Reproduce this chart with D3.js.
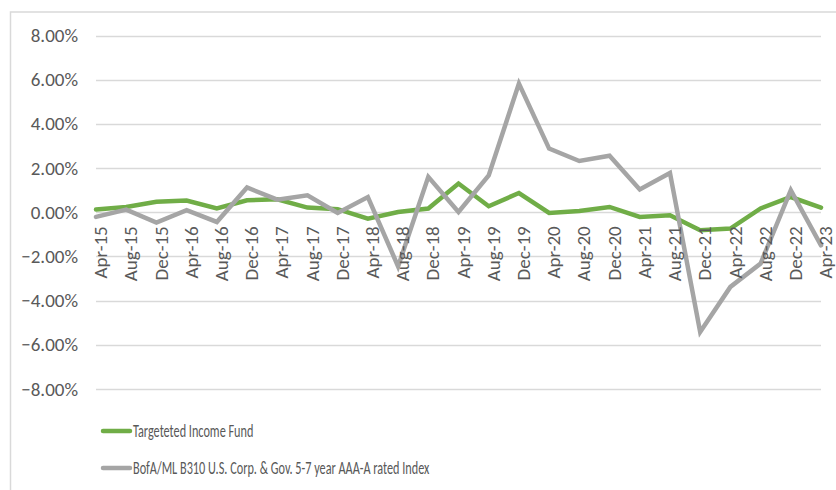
<!DOCTYPE html>
<html>
<head>
<meta charset="utf-8">
<script src="https://cdn.jsdelivr.net/npm/d3@7"></script>
<style>
  body { margin: 0; background: #fff; }
  svg { display: block; }
  text { font-family: "Carlito", "Calibri", "Liberation Sans", Arial, sans-serif; fill: #595959; }
</style>
</head>
<body>
<div id="chartContainer"></div>
<script>
// category labels (every 4 months)
const months = ["Apr-15", "Aug-15", "Dec-15", "Apr-16", "Aug-16", "Dec-16", "Apr-17", "Aug-17", "Dec-17",
  "Apr-18", "Aug-18", "Dec-18", "Apr-19", "Aug-19", "Dec-19", "Apr-20", "Aug-20", "Dec-20",
  "Apr-21", "Aug-21", "Dec-21", "Apr-22", "Aug-22", "Dec-22", "Apr-23"];

// returns in percent
const fundValues = [0.12, 0.24, 0.47, 0.53, 0.17, 0.54, 0.59, 0.21, 0.14,
  -0.29, 0.01, 0.17, 1.30, 0.27, 0.87, -0.03, 0.06, 0.24,
  -0.21, -0.14, -0.81, -0.74, 0.17, 0.69, 0.21];

const indexValues = [-0.21, 0.12, -0.47, 0.09, -0.44, 1.12, 0.57, 0.77, -0.03,
  0.69, -2.45, 1.60, 0.01, 1.67, 5.82, 2.88, 2.32, 2.56,
  1.03, 1.78, -5.42, -3.38, -2.32, 1.00, -1.50];

const yTicks = [8, 6, 4, 2, 0, -2, -4, -6, -8];

const seriesNames = ["Targeteted Income Fund", "BofA/ML B310 U.S. Corp. & Gov. 5-7 year AAA-A rated Index"];
const seriesColors = ["#70ad47", "#a5a5a5"];

const W = 836, H = 490;
const axisFont = "\"Carlito\", \"Calibri\", \"Liberation Sans\", Arial, sans-serif";

const svg = d3.select("#chartContainer")
  .append("svg")
  .attr("width", W)
  .attr("height", H);

// chart area frame
svg.append("rect")
  .attr("x", 10.5)
  .attr("y", 12)
  .attr("width", W + 20)
  .attr("height", H + 20)
  .attr("fill", "none")
  .attr("stroke", "#d9d9d9")
  .attr("stroke-width", 1.5);

const xScale = d3.scalePoint().domain(months).range([96, 821]);
const yScale = d3.scaleLinear().domain([-8, 8]).range([389, 35.5]);

// gridlines
svg.append("g")
  .selectAll("line")
  .data(yTicks)
  .enter()
  .append("line")
  .attr("x1", 96)
  .attr("x2", 821)
  .attr("y1", d => Math.round(yScale(d)) + 0.5)
  .attr("y2", d => Math.round(yScale(d)) + 0.5)
  .attr("stroke", "#d9d9d9")
  .attr("stroke-width", 1.5);

// y labels
const yAxis = d3.axisLeft(yScale)
  .tickValues(yTicks)
  .tickSize(0)
  .tickPadding(18)
  .tickFormat(d => d3.format(".2f")(d) + "%");

svg.append("g")
  .attr("transform", "translate(96,0)")
  .call(yAxis)
  .call(g => g.select(".domain").remove())
  .selectAll("text")
  .attr("font-size", "19px")
  .attr("fill", "#595959")
  .style("font-family", axisFont);

// lines
const line = d3.line()
  .x((d, i) => xScale(months[i]))
  .y(d => yScale(d));

[fundValues, indexValues].forEach((vals, k) => {
  svg.append("path")
    .datum(vals)
    .attr("fill", "none")
    .attr("stroke", seriesColors[k])
    .attr("stroke-width", 4.5)
    .attr("stroke-linejoin", "miter")
    .attr("stroke-linecap", "round")
    .attr("d", line);
});

// x labels, rotated, sitting under the zero line
const xAxis = d3.axisBottom(xScale).tickSize(0).tickPadding(0);
svg.append("g")
  .attr("transform", `translate(0, ${yScale(0)})`)
  .call(xAxis)
  .call(g => g.select(".domain").remove())
  .selectAll("text")
  .attr("font-size", "19px")
  .attr("fill", "#595959")
  .style("font-family", axisFont)
  .attr("transform", "rotate(-90)")
  .attr("text-anchor", "end")
  .attr("x", -14)
  .attr("y", 4)
  .attr("dy", "0.35em");

// legend
const legend = svg.append("g")
  .selectAll("g")
  .data(seriesNames)
  .enter()
  .append("g")
  .attr("transform", (d, i) => `translate(103, ${431 + i * 37})`);

legend.append("line")
  .attr("x1", 0)
  .attr("x2", 27)
  .attr("stroke", (d, i) => seriesColors[i])
  .attr("stroke-width", 4.5)
  .attr("stroke-linecap", "round");

// legend text is drawn narrow, like the original
legend.append("text")
  .attr("transform", "translate(30,0) scale(0.68,1)")
  .attr("dy", "0.35em")
  .attr("font-size", "18px")
  .text(d => d);
</script>
</body>
</html>
